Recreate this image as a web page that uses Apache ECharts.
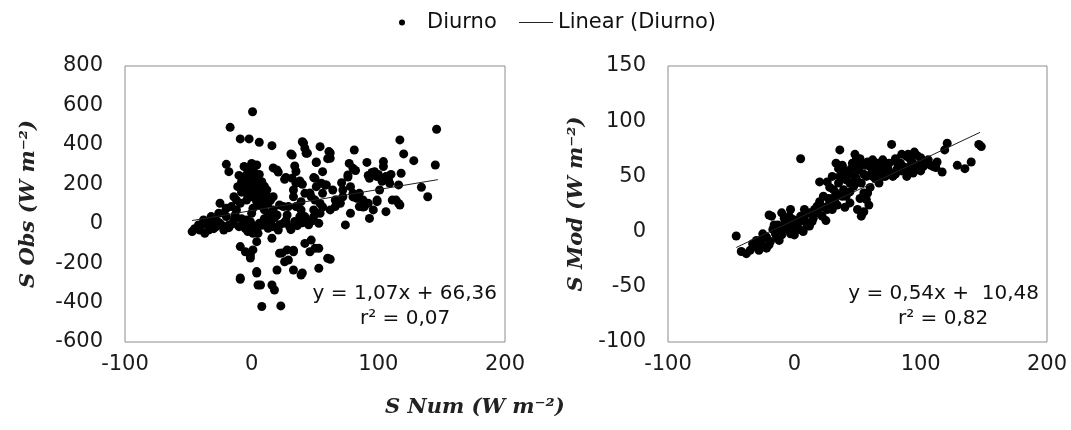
<!DOCTYPE html>
<html>
<head>
<meta charset="utf-8">
<script src="https://cdn.jsdelivr.net/npm/echarts@6/dist/echarts.min.js"></script>
<style>
html,body{margin:0;padding:0;background:#fff;}
#chart{width:1071px;height:430px;}
</style>
</head>
<body>
<div id="chart"></div>
<script>
// ---- Data ----
const seriesName = 'Diurno';
const trendName = 'Linear (Diurno)';

// Left panel: S Num (x) vs S Obs (y)
const obsPoints = [
[0.7,568],[-17,489],[-9,430],[-2,430],[6,413],[16,396],[40,416],[54,391],[42,382],[61,366],[31,354],[43,357],[62,332],[81,374],[117,425],[146,479],[120,354],[128,320],[145,298],[-20,301],[-18,264],[91,311],[104,315],[104,290],[77,306],[80,281],[34,293],[51,310],[56,264],[20,273],[27,235],[32,230],[38,217],[49,234],[59,197],[71,208],[76,247],[93,230],[99,239],[97,264],[106,239],[118,256],[116,197],[134,185],[139,137],[114,120],[117,95],[106,61],[99,112],[96,70],[93,27],[85,87],[88,120],[78,53],[74,-6],[80,154],[85,154],[67,120],[64,171],[56,154],[54,103],[62,70],[54,53],[47,137],[49,70],[42,154],[39,112],[33,137],[29,87],[28,44],[22,95],[20,44],[16,27],[17,137],[12,171],[8,213],[3,239],[-1,281],[-4,247],[0,306],[4,298],[-8,213],[-11,188],[-14,137],[-3,188],[1,171],[5,146],[9,129],[13,104],[9,87],[1,78],[0,53],[-4,120],[-9,104],[-12,70],[-20,78],[-25,104],[-26,53],[-32,36],[-38,19],[-42,-6],[-47,-40],[-37,-49],[-41,-32],[-33,2],[-28,-15],[-22,-32],[-18,-6],[-14,19],[-20,36],[-13,44],[-7,2],[-4,19],[0,-6],[-3,-40],[1,-49],[4,-32],[6,2],[12,11],[13,-23],[17,-15],[21,-32],[25,2],[30,-15],[34,11],[38,36],[43,19],[49,36],[53,2],[-9,-116],[-5,-142],[-1,-159],[1,-133],[4,-91],[5,-49],[16,-74],[22,-150],[26,-193],[28,-133],[33,-142],[33,-235],[39,-260],[42,-100],[47,-83],[50,-125],[46,-142],[53,-125],[60,-175],[62,-180],[53,-226],[20,-235],[4,-243],[-9,-282],[5,-311],[16,-311],[18,-336],[8,-420],[23,-417],[-4,154],[0,137],[4,112],[6,95],[10,70],[-12,120],[-16,87],[-22,53],[-29,19],[-25,2],[-34,-32],[13,53],[17,70],[25,87],[35,87],[39,70],[42,36],[33,171],[35,205],[51,188],[55,205],[66,87],[70,104],[72,137],[83,129],[89,87],[92,104],[101,171],[109,205],[78,188],
[-6,290],[-3,270],[2,260],[6,250],[-5,225],[0,220],[5,200],[-7,180],[2,190],[7,175],[-2,150],[3,130],[8,155],[-8,160],[10,190],[12,140],[15,120],[-10,245],[17,283],[21,262],[26,225],[40,200],[32,348],[35,265],[41,409],[44,358],
[-45,-25],[-40,-10],[-35,0],[-30,-25],[-27,10],[-23,-10],[-18,-20],[-15,0],[-10,-15],[-8,25],[-5,-25],[-1,10],[3,-15],[8,-8],[10,25],[15,5],[18,30],[22,-5],[27,15],[31,-30],[36,-10],[40,5],[45,-5],[48,15],
[-1,-174],[24,-148],[29,-184],[33,-134],[40,-250],[-9,-275],[4,-250],[7,-311],
[95,260],[100,250],[108,225],[103,215],[92,245],[110,250],[62,359],[51,313],[60,330],[50,230],[76,237],[82,270],[58,196],[72,171],[66,120],[80,136],[88,85],[99,120],[111,120],[116,103],[46,156],[50,120],[56,85]
];

// Right panel: S Num (x) vs S Mod (y)
const modPoints = [
[-46,-4],[-42,-18],[-38,-20],[-35,-17],[-30,-14],[-27,-8],[-25,-2],[-22,-15],[-19,-9],[-22,-5],[-20,15],[-18,14],[-14,-5],[-11,0],[-9,3],[-10,17],[-3,20],[-6,8],[-1,11],[5,14],[-3,-2],[2,2],[7,0],[5,66],[10,8],[15,12],[19,17],[18,23],[20,27],[26,20],[28,26],[32,29],[20,45],[23,32],[31,38],[35,44],[38,50],[30,50],[35,57],[36,74],[39,38],[41,32],[44,26],[44,44],[48,50],[51,56],[52,60],[56,60],[60,59],[53,44],[57,50],[61,53],[55,35],[57,29],[59,24],[55,18],[64,48],[68,56],[70,59],[76,53],[78,50],[81,56],[77,79],[84,62],[89,68],[92,65],[89,50],[94,53],[98,60],[97,69],[101,65],[105,62],[110,59],[113,63],[117,54],[121,80],[119,74],[129,60],[135,57],[140,63],[146,79],[148,77],[-17,2],[-13,6],[-7,9],[-1,5],[3,8],[8,14],[12,17],[41,47],[47,41],[39,56],[47,59],[49,65],[67,44],[72,50],[81,63],[86,59],[94,62],[102,59],[106,65],[-33,-11],[-26,-12],[-10,-3],[-5,2],[10,5],[14,9],[24,22],[27,30],[33,35],[45,52],[50,45],[63,55],[66,60],[74,57],[85,55],[90,58],[96,56],[100,55],[-30,-8],[-15,-2],[0,8],[6,10],
[48,70],[52,66],[58,63],[62,65],[66,62],[70,65],[75,62],[80,66],[85,70],[90,70],[95,72],[100,67],[108,60],[112,58],[70,50],[80,52],[88,55],[60,40],[52,30],[58,35],[50,20],[53,14],[46,62],[-24,-6],[-28,-17],[-20,-12],[-12,-8],[-16,6],[-8,12],[-4,14],[4,2],[0,-3],[8,20],[12,5],[16,20],[22,14],[25,10],[30,20],[30,30],[34,24],[38,32],[40,22],[42,52],[44,36],[36,50],[28,40],[26,45],[33,62],[38,60],[45,57],[49,48],[55,52],[62,50],[68,52],[72,54]
];

// Linear trend lines (endpoints of the fitted lines shown in the picture)
const obsTrend = [[-47,16.1],[147,223.6]];
const modTrend = [[-46,-14.4],[147,89.9]];

// Axis settings / labels
const xTicks = { min: -100, max: 200, interval: 100 };
const obsTicks = { min: -600, max: 800, interval: 200 };
const modTicks = { min: -100, max: 150, interval: 50 };
const obsEquation = ['y = 1,07x + 66,36', 'r\u00B2 = 0,07'];
const modEquation = ['y = 0,54x +  10,48', 'r\u00B2 = 0,82'];
const obsTitle = 'S Obs (W m\u207B\u00B2)';
const modTitle = 'S Mod (W m\u207B\u00B2)';
const numTitle = 'S Num (W m\u207B\u00B2)';

// ---- Chart ----
const SANS = 'DejaVu Sans';
const SERIF = 'DejaVu Serif';
const labelStyle = { fontSize: 21, fontFamily: SANS, color: '#1a1a1a' };
const titleStyle = { fontSize: 21, fontFamily: SERIF, fontStyle: 'italic', fontWeight: 'bold', color: '#222' };

function xAxis(idx) {
  return {
    gridIndex: idx, type: 'value', min: xTicks.min, max: xTicks.max, interval: xTicks.interval,
    axisLine: { show: false }, axisTick: { show: false }, splitLine: { show: false },
    axisLabel: Object.assign({ margin: 12 }, labelStyle)
  };
}
function yAxis(idx, t, name, gap) {
  return {
    gridIndex: idx, type: 'value', min: t.min, max: t.max, interval: t.interval,
    axisLine: { show: false }, axisTick: { show: false }, splitLine: { show: false },
    axisLabel: Object.assign({ margin: 22 }, labelStyle),
    name: name, nameLocation: 'middle', nameRotate: 90, nameGap: gap,
    nameTextStyle: titleStyle
  };
}

const chart = echarts.init(document.getElementById('chart'), null, { renderer: 'canvas' });
chart.setOption({
  animation: false,
  backgroundColor: '#fff',
  legend: [
    { data: [{ name: seriesName, icon: 'circle' }], left: 399, top: 12, padding: 0,
      itemWidth: 6, itemHeight: 6,
      textStyle: { fontSize: 21, fontFamily: SANS, color: '#111', padding: [0, 0, 0, 17] } },
    { data: [{ name: trendName, icon: 'rect' }], left: 519, top: 12, padding: 0,
      itemWidth: 34, itemHeight: 1,
      textStyle: { fontSize: 21, fontFamily: SANS, color: '#111' } }
  ],
  grid: [
    { left: 125, top: 66, width: 380, height: 276, show: true, borderColor: '#8c8c8c', borderWidth: 1, backgroundColor: '#fff' },
    { left: 668, top: 66, width: 379, height: 276, show: true, borderColor: '#8c8c8c', borderWidth: 1, backgroundColor: '#fff' }
  ],
  xAxis: [xAxis(0), xAxis(1)],
  yAxis: [yAxis(0, obsTicks, obsTitle, 86), yAxis(1, modTicks, modTitle, 81)],
  series: [
    { name: seriesName, type: 'scatter', xAxisIndex: 0, yAxisIndex: 0, data: obsPoints,
      symbolSize: 9, itemStyle: { color: '#000', opacity: 1 } },
    { name: trendName, type: 'line', xAxisIndex: 0, yAxisIndex: 0, data: obsTrend,
      symbol: 'none', itemStyle: { color: '#222' }, lineStyle: { color: '#222', width: 1 }, z: 3 },
    { name: seriesName, type: 'scatter', xAxisIndex: 1, yAxisIndex: 1, data: modPoints,
      symbolSize: 9, itemStyle: { color: '#000', opacity: 1 } },
    { name: trendName, type: 'line', xAxisIndex: 1, yAxisIndex: 1, data: modTrend,
      symbol: 'none', itemStyle: { color: '#222' }, lineStyle: { color: '#222', width: 1 }, z: 3 }
  ],
  graphic: [
    { type: 'text', right: 1071 - 497, top: 284, style: { text: obsEquation[0], fontSize: 20, fontFamily: SANS, fill: '#111' } },
    { type: 'text', left: 360, top: 309, style: { text: obsEquation[1], fontSize: 20, fontFamily: SANS, fill: '#111' } },
    { type: 'text', right: 1071 - 1039, top: 284, style: { text: modEquation[0], fontSize: 20, fontFamily: SANS, fill: '#111' } },
    { type: 'text', left: 898, top: 309, style: { text: modEquation[1], fontSize: 20, fontFamily: SANS, fill: '#111' } },
    { type: 'text', left: 385, top: 397, style: { text: numTitle, fontSize: 21, fontFamily: SERIF, fontStyle: 'italic', fontWeight: 'bold', fill: '#222' } }
  ]
});
</script>
</body>
</html>
